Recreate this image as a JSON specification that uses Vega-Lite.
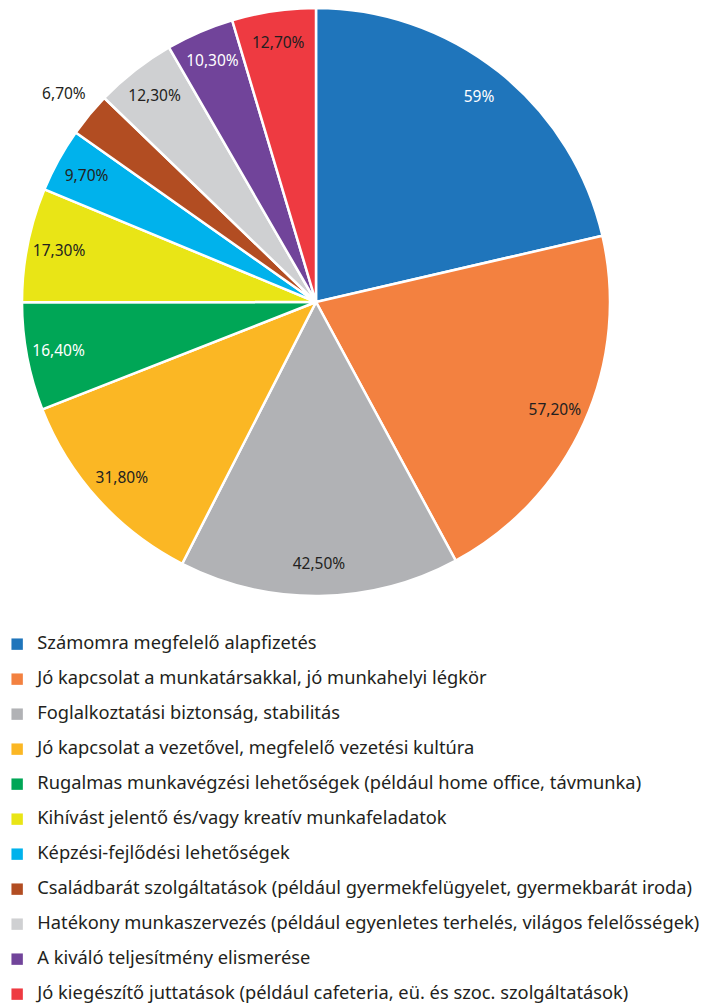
{
  "$schema": "https://vega.github.io/schema/vega-lite/v6.json",
  "width": 632,
  "height": 604,
  "autosize": {"type": "none"},
  "padding": {"left": 0, "top": 0, "right": 87, "bottom": 402},
  "background": "white",
  "config": {"view": {"stroke": null}},
  "data": {
    "values": [
      {"rank": 1, "cat": "Számomra megfelelő alapfizetés", "value": 59, "label": "59%"},
      {"rank": 2, "cat": "Jó kapcsolat a munkatársakkal, jó munkahelyi légkör", "value": 57.2, "label": "57,20%"},
      {"rank": 3, "cat": "Foglalkoztatási biztonság, stabilitás", "value": 42.5, "label": "42,50%"},
      {"rank": 4, "cat": "Jó kapcsolat a vezetővel, megfelelő vezetési kultúra", "value": 31.8, "label": "31,80%"},
      {"rank": 5, "cat": "Rugalmas munkavégzési lehetőségek (például home office, távmunka)", "value": 16.4, "label": "16,40%"},
      {"rank": 6, "cat": "Kihívást jelentő és/vagy kreatív munkafeladatok", "value": 17.3, "label": "17,30%"},
      {"rank": 7, "cat": "Képzési-fejlődési lehetőségek", "value": 9.7, "label": "9,70%"},
      {"rank": 8, "cat": "Családbarát szolgáltatások (például gyermekfelügyelet, gyermekbarát iroda)", "value": 6.7, "label": "6,70%"},
      {"rank": 9, "cat": "Hatékony munkaszervezés (például egyenletes terhelés, világos felelősségek)", "value": 12.3, "label": "12,30%"},
      {"rank": 10, "cat": "A kiváló teljesítmény elismerése", "value": 10.3, "label": "10,30%"},
      {"rank": 11, "cat": "Jó kiegészítő juttatások (például cafeteria, eü. és szoc. szolgáltatások)", "value": 12.7, "label": "12,70%"}
    ]
  },
  "encoding": {
    "theta": {"field": "value", "type": "quantitative", "stack": true},
    "order": {"field": "rank", "type": "quantitative"}
  },
  "layer": [
    {
      "mark": {"type": "arc", "outerRadius": 294, "stroke": "white", "strokeWidth": 2.5},
      "encoding": {
        "color": {
          "field": "cat",
          "type": "nominal",
          "sort": null,
          "scale": {
            "domain": [
              "Számomra megfelelő alapfizetés",
              "Jó kapcsolat a munkatársakkal, jó munkahelyi légkör",
              "Foglalkoztatási biztonság, stabilitás",
              "Jó kapcsolat a vezetővel, megfelelő vezetési kultúra",
              "Rugalmas munkavégzési lehetőségek (például home office, távmunka)",
              "Kihívást jelentő és/vagy kreatív munkafeladatok",
              "Képzési-fejlődési lehetőségek",
              "Családbarát szolgáltatások (például gyermekfelügyelet, gyermekbarát iroda)",
              "Hatékony munkaszervezés (például egyenletes terhelés, világos felelősségek)",
              "A kiváló teljesítmény elismerése",
              "Jó kiegészítő juttatások (például cafeteria, eü. és szoc. szolgáltatások)"
            ],
            "range": ["#1f75bb", "#f38140", "#b1b2b5", "#fbb724", "#00a656", "#e9e516", "#00b2ec", "#b24d22", "#cfd0d2", "#71449a", "#ee3a41"]
          },
          "legend": {
            "title": null,
            "orient": "none",
            "legendX": 8,
            "legendY": 635,
            "direction": "vertical",
            "symbolType": "square",
            "symbolSize": 130,
            "symbolStrokeWidth": 0,
            "labelFont": "Noto Sans",
            "labelFontSize": 18.3,
            "labelColor": "#231f20",
            "labelOffset": 11,
            "labelLimit": 720,
            "rowPadding": 16,
            "padding": 0
          }
        }
      }
    },
    {
      "mark": {"type": "text", "radius": 262, "font": "Noto Sans", "fontSize": 15.5},
      "encoding": {
        "text": {"condition": {"test": "datum.label == '6,70%'", "value": ""}, "field": "label", "type": "nominal"},
        "color": {
          "condition": {"test": "indexof(['59%','10,30%','16,40%'], datum.label) >= 0", "value": "white"},
          "value": "#231f20"
        }
      }
    },
    {
      "mark": {"type": "text", "radius": 327, "font": "Noto Sans", "fontSize": 15.5, "color": "#231f20"},
      "encoding": {
        "text": {"condition": {"test": "datum.label != '6,70%'", "value": ""}, "field": "label", "type": "nominal"}
      }
    }
  ]
}
